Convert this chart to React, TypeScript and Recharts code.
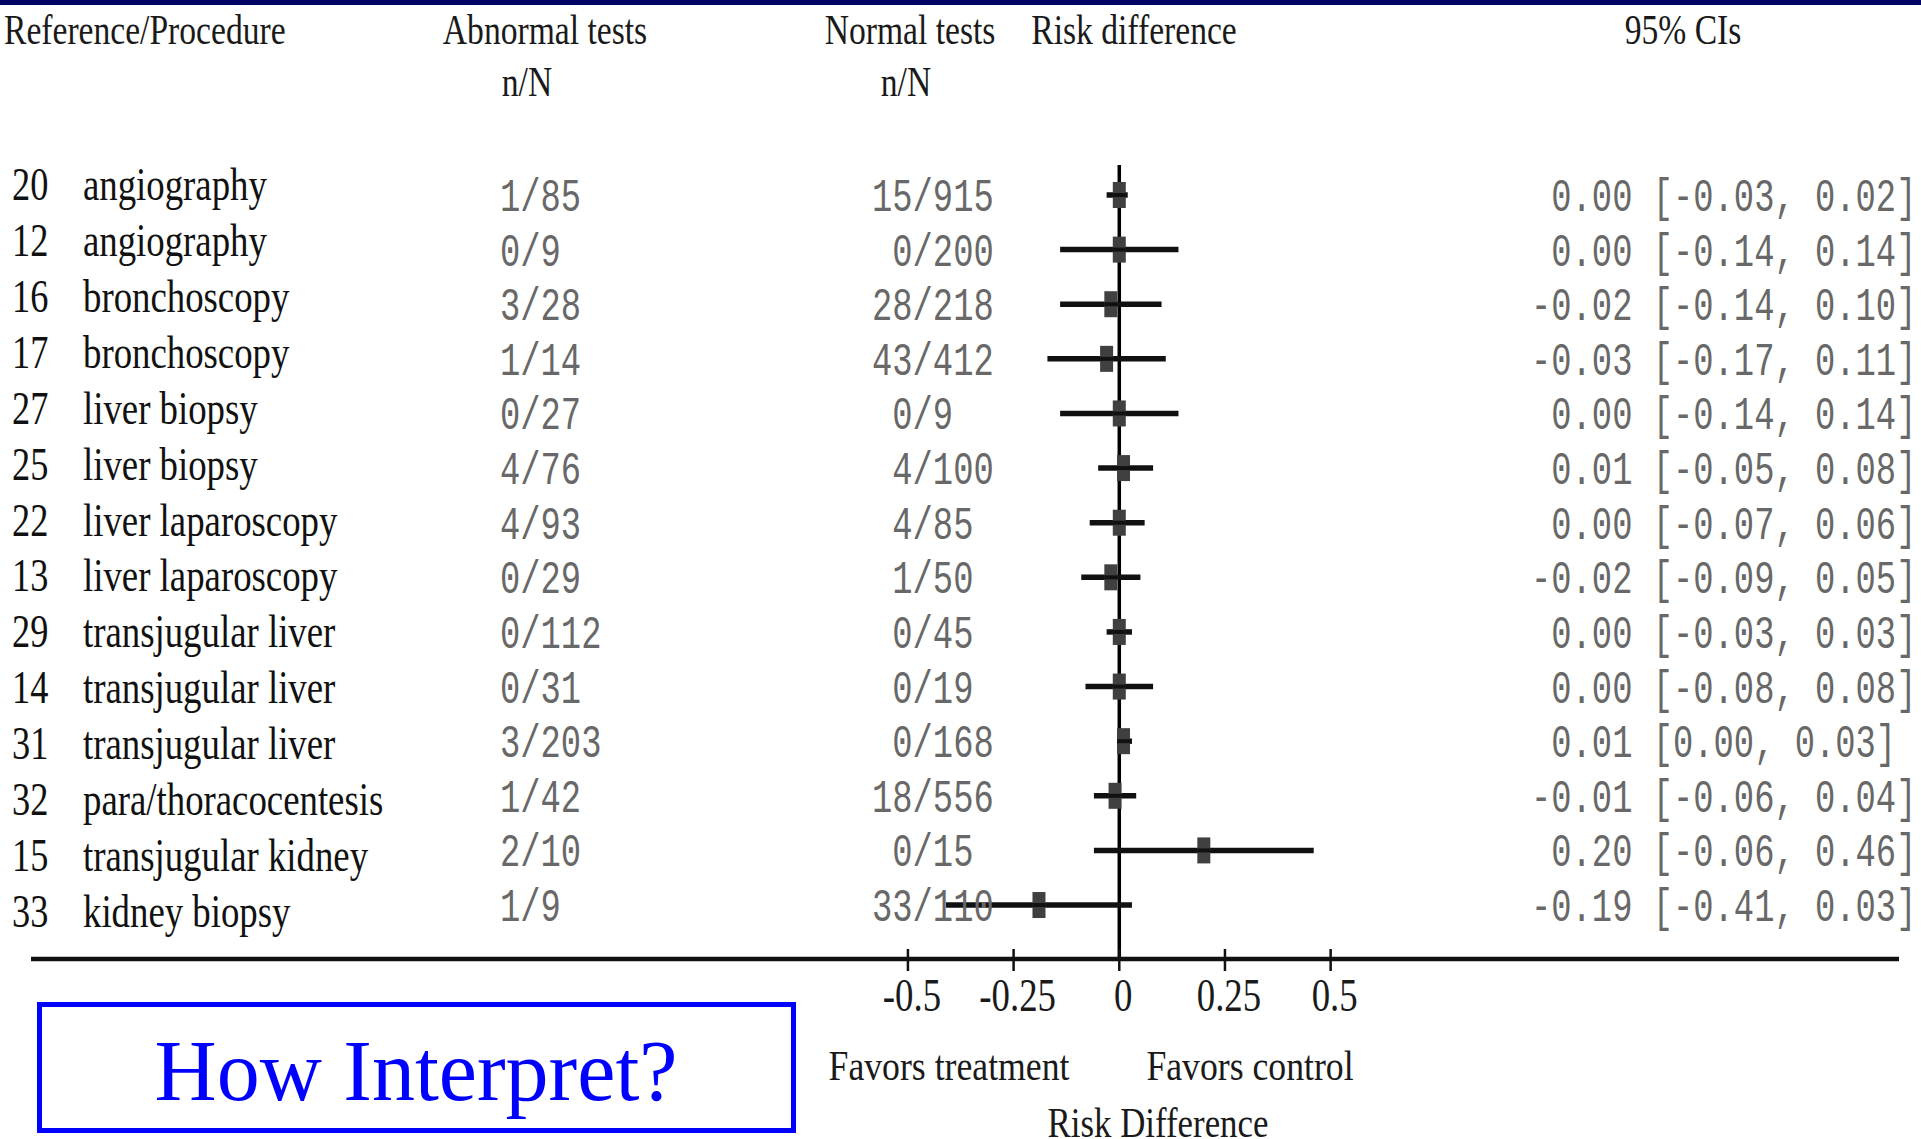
import React from "react";
import { ErrorBar, ReferenceLine, Scatter, ScatterChart, XAxis, YAxis } from "recharts";

const refIds = [20, 12, 16, 17, 27, 25, 22, 13, 29, 14, 31, 32, 15, 33];
const procedures = [
  "angiography",
  "angiography",
  "bronchoscopy",
  "bronchoscopy",
  "liver biopsy",
  "liver biopsy",
  "liver laparoscopy",
  "liver laparoscopy",
  "transjugular liver",
  "transjugular liver",
  "transjugular liver",
  "para/thoracocentesis",
  "transjugular kidney",
  "kidney biopsy",
];
const abnormalEvents = [1, 0, 3, 1, 0, 4, 4, 0, 0, 0, 3, 1, 2, 1];
const abnormalTotals = [85, 9, 28, 14, 27, 76, 93, 29, 112, 31, 203, 42, 10, 9];
const normalEvents = [15, 0, 28, 43, 0, 4, 4, 1, 0, 0, 0, 18, 0, 33];
const normalTotals = [915, 200, 218, 412, 9, 100, 85, 50, 45, 19, 168, 556, 15, 110];
const riskDiff = [0.0, 0.0, -0.02, -0.03, 0.0, 0.01, 0.0, -0.02, 0.0, 0.0, 0.01, -0.01, 0.2, -0.19];
const ciLow = [-0.03, -0.14, -0.14, -0.17, -0.14, -0.05, -0.07, -0.09, -0.03, -0.08, 0.0, -0.06, -0.06, -0.41];
const ciHigh = [0.02, 0.14, 0.1, 0.11, 0.14, 0.08, 0.06, 0.05, 0.03, 0.08, 0.03, 0.04, 0.46, 0.03];
const xTicks = [-0.5, -0.25, 0, 0.25, 0.5];

const rowIdx = refIds.map((_, i) => i);
const points = rowIdx.map((i) => ({
  row: i,
  est: riskDiff[i],
  err: [riskDiff[i] - ciLow[i], ciHigh[i] - riskDiff[i]],
}));

const W = 1921;
const H = 1139;
const SERIF = "'Liberation Serif', 'Times New Roman', serif";
const MONO = "'Liberation Mono', 'DejaVu Sans Mono', monospace";

const fmt = (v: number) => v.toFixed(2);
const ciText = (i: number) => `${fmt(riskDiff[i]).padStart(5, " ")} [${fmt(ciLow[i])}, ${fmt(ciHigh[i])}]`;

function Serif({ x, y, size, sx = 0.8, anchor = "start", fill = "#1a1a1a", children }: any) {
  return (
    <text
      transform={`translate(${x} ${y}) scale(${sx} 1)`}
      fontFamily={SERIF}
      fontSize={size}
      textAnchor={anchor}
      fill={fill}
    >
      {children}
    </text>
  );
}

function Mono({ x, y, children }: any) {
  return (
    <text
      transform={`translate(${x} ${y}) scale(0.735 1)`}
      fontFamily={MONO}
      fontSize={46}
      fill="#686868"
      xmlSpace="preserve"
      style={{ whiteSpace: "pre" }}
    >
      {children}
    </text>
  );
}

function LabelTick({ y, payload }: any) {
  const i = Math.round(payload.value);
  return (
    <g>
      <Serif x={12} y={y + 16} size={46} sx={0.79} fill="#111">{refIds[i]}</Serif>
      <Serif x={83} y={y + 16} size={46} sx={0.8} fill="#111">{procedures[i]}</Serif>
    </g>
  );
}

function RowTick({ y, payload }: any) {
  const i = Math.round(payload.value);
  return (
    <g>
      <Mono x={500} y={y + 16}>{`${abnormalEvents[i]}/${abnormalTotals[i]}`}</Mono>
      <Mono x={872} y={y + 16}>{`${String(normalEvents[i]).padStart(2, " ")}/${normalTotals[i]}`}</Mono>
      <Mono x={1531} y={y + 16}>{ciText(i)}</Mono>
    </g>
  );
}

function XTick({ x, y, payload }: any) {
  return (
    <g>
      <line x1={x} x2={x} y1={y - 10} y2={y + 12} stroke="#111" strokeWidth={2.5} />
      <Serif x={x + 4} y={y + 52} size={46} sx={0.8} anchor="middle">{String(payload.value)}</Serif>
    </g>
  );
}

function Marker({ cx, cy }: any) {
  return (
    <g>
      <rect x={cx - 6.5} y={cy - 13} width={13} height={26} fill="#404040" />
      <line x1={cx - 6.5} x2={cx + 6.5} y1={cy} y2={cy} stroke="#111" strokeWidth={4} />
    </g>
  );
}

export default function App() {
  return (
    <div style={{ position: "absolute", left: 0, top: 0, width: W, height: H, background: "#fff" }}>
      <ScatterChart width={W} height={H} margin={{ top: 165, left: 29, right: 22, bottom: 80 }}>
        <XAxis
          type="number"
          dataKey="est"
          domain={[-2.5746, 1.8446]}
          allowDataOverflow
          ticks={xTicks}
          interval={0}
          height={100}
          tickSize={0}
          tickMargin={0}
          tickLine={false}
          axisLine={{ stroke: "#111", strokeWidth: 4.5 }}
          tick={XTick}
        />
        <YAxis
          yAxisId="labels"
          type="number"
          width={1}
          domain={[-0.34, 13.858]}
          allowDataOverflow
          reversed
          ticks={rowIdx}
          interval={0}
          axisLine={false}
          tickLine={false}
          tick={LabelTick}
        />
        <YAxis
          yAxisId="rows"
          type="number"
          dataKey="row"
          width={1}
          domain={[-0.549, 13.988]}
          allowDataOverflow
          reversed
          ticks={rowIdx}
          interval={0}
          axisLine={false}
          tickLine={false}
          tick={RowTick}
        />
        <ReferenceLine yAxisId="rows" x={0} stroke="#000" strokeWidth={3.5} />
        <Scatter yAxisId="rows" data={points} shape={Marker} isAnimationActive={false}>
          <ErrorBar dataKey="err" direction="x" width={0} stroke="#111" strokeWidth={5.5} isAnimationActive={false} />
        </Scatter>
      </ScatterChart>
      <svg width={W} height={H} style={{ position: "absolute", left: 0, top: 0, pointerEvents: "none" }}>
        <rect x={0} y={0} width={W} height={5} fill="#000066" />
        <Serif x={4} y={44} size={42} sx={0.8}>Reference/Procedure</Serif>
        <Serif x={545} y={44} size={42} sx={0.8} anchor="middle">Abnormal tests</Serif>
        <Serif x={527} y={96} size={42} sx={0.8} anchor="middle">n/N</Serif>
        <Serif x={910} y={44} size={42} sx={0.8} anchor="middle">Normal tests</Serif>
        <Serif x={906} y={96} size={42} sx={0.8} anchor="middle">n/N</Serif>
        <Serif x={1134} y={44} size={42} sx={0.8} anchor="middle">Risk difference</Serif>
        <Serif x={1683} y={44} size={42} sx={0.8} anchor="middle">95% CIs</Serif>
        <Serif x={949} y={1080} size={42} sx={0.85} anchor="middle">Favors treatment</Serif>
        <Serif x={1250} y={1080} size={42} sx={0.85} anchor="middle">Favors control</Serif>
        <Serif x={1158} y={1137} size={42} sx={0.83} anchor="middle">Risk Difference</Serif>
        <rect x={39.5} y={1004.5} width={754} height={126} fill="none" stroke="#0000ff" strokeWidth={5} />
        <Serif x={416} y={1100} size={86} sx={1} anchor="middle" fill="#0000ff">How Interpret?</Serif>
      </svg>
    </div>
  );
}
